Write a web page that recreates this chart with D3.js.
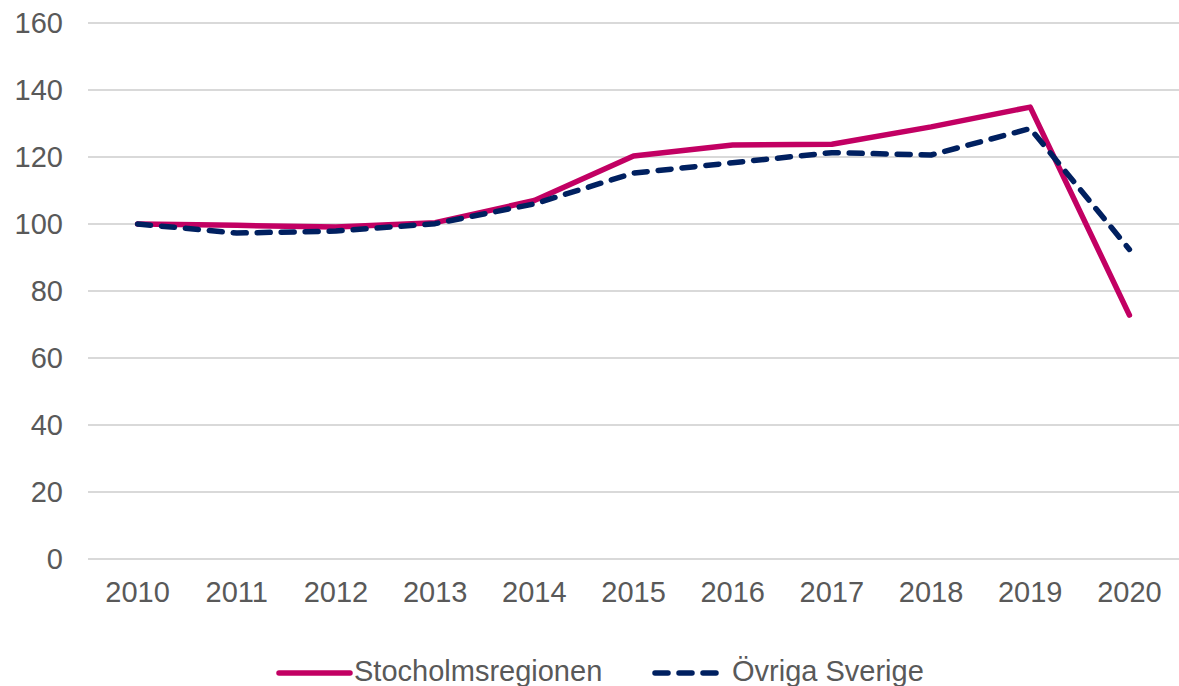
<!DOCTYPE html>
<html>
<head>
<meta charset="utf-8">
<script src="https://cdn.jsdelivr.net/npm/d3@7"></script>
<style>
  body { margin: 0; background: #fff; }
  svg text { font-family: "Liberation Sans", Arial, sans-serif; fill: #595959; }
</style>
</head>
<body>
<svg width="1179" height="686"></svg>
<script>
var years = ["2010","2011","2012","2013","2014","2015","2016","2017","2018","2019","2020"]
var stockholm = [100, 99.6, 99.1, 100.4, 107, 120.3, 123.6, 123.8, 129, 134.9, 72.8]
var ovriga = [100, 97.3, 97.9, 100.1, 106, 115.2, 118.3, 121.3, 120.6, 128.5, 92.4]
var yTicks = [0, 20, 40, 60, 80, 100, 120, 140, 160]
var seriesNames = ["Stocholmsregionen", "Övriga Sverige"]

var svg = d3.select("svg")

var plotLeft = 88, plotRight = 1179, plotTop = 23, plotBottom = 559

var x = d3.scaleBand()
  .domain(years)
  .range([plotLeft, plotRight])

var y = d3.scaleLinear()
  .domain([0, 160])
  .range([plotBottom, plotTop])

// gridlines
svg.append("g")
  .selectAll("line")
  .data(yTicks)
  .join("line")
  .attr("x1", plotLeft)
  .attr("x2", plotRight)
  .attr("y1", d => y(d))
  .attr("y2", d => y(d))
  .style("stroke", "#d9d9d9")
  .style("stroke-width", 2)

var yAxis = svg.append("g")
  .attr("transform", `translate(${plotLeft},0)`)
  .call(d3.axisLeft(y).tickValues(yTicks).tickSize(0).tickPadding(25))
yAxis.select(".domain").remove()
yAxis.selectAll("text").style("font-size", "29px").style("fill", "#595959")

var xAxis = svg.append("g")
  .attr("transform", `translate(0,${plotBottom})`)
  .call(d3.axisBottom(x).tickSize(0).tickPadding(22))
xAxis.select(".domain").remove()
xAxis.selectAll("text").style("font-size", "29px").style("fill", "#595959")

var line = d3.line()
  .x((d, i) => x(years[i]) + x.bandwidth() / 2)
  .y(d => y(d))

svg.append("path")
  .datum(stockholm)
  .attr("d", line)
  .style("fill", "none")
  .style("stroke", "#c20063")
  .style("stroke-width", 5.5)
  .style("stroke-linejoin", "round")
  .style("stroke-linecap", "round")

svg.append("path")
  .datum(ovriga)
  .attr("d", line)
  .style("fill", "none")
  .style("stroke", "#002060")
  .style("stroke-width", 5.5)
  .style("stroke-dasharray", "13,11")
  .style("stroke-linejoin", "round")
  .style("stroke-linecap", "round")

// legend
var legend = svg.append("g")
var ly = 673

legend.append("line")
  .attr("x1", 279).attr("x2", 350)
  .attr("y1", ly).attr("y2", ly)
  .style("stroke", "#c20063")
  .style("stroke-width", 5.5)
  .style("stroke-linecap", "round")

legend.append("text")
  .attr("x", 354).attr("y", ly + 8)
  .style("font-size", "29px")
  .text(seriesNames[0])

legend.append("line")
  .attr("x1", 655).attr("x2", 720)
  .attr("y1", ly).attr("y2", ly)
  .style("stroke", "#002060")
  .style("stroke-width", 5.5)
  .style("stroke-dasharray", "13,11")
  .style("stroke-linecap", "round")

legend.append("text")
  .attr("x", 732).attr("y", ly + 8)
  .style("font-size", "29px")
  .text(seriesNames[1])
</script>
</body>
</html>
